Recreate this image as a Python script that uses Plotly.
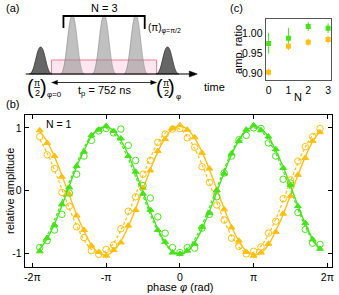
import plotly.graph_objects as go

# ---------------- data ----------------
# phase values in units of pi
phase = [-1.9, -1.8, -1.7, -1.6, -1.5, -1.4, -1.3, -1.2, -1.1, -1.0,
         -0.9, -0.8, -0.7, -0.6, -0.5, -0.4, -0.3, -0.2, -0.1, 0.0,
         0.1, 0.2, 0.3, 0.4, 0.5, 0.6, 0.7, 0.8, 0.9, 1.0,
         1.1, 1.2, 1.3, 1.4, 1.5, 1.6, 1.7, 1.8, 1.9]

# yellow, open circles (data) and dashed fit
yellow_circ = [0.86, 0.57, 0.35, -0.03, -0.25, -0.58, -0.75, -0.96, -1.02, -0.94,
               -0.87, -0.61, -0.33, -0.10, 0.26, 0.48, 0.77, 0.90, 0.98, 0.99,
               0.84, 0.69, 0.38, 0.13, -0.23, -0.47, -0.76, -0.89, -1.01, -0.97,
               -0.90, -0.68, -0.49, -0.13, 0.17, 0.47, 0.70, 0.86, 0.99]
yellow_circ_fit = [0.814, 0.598, 0.326, 0.022, -0.283, -0.562, -0.787, -0.938, -0.999, -0.966,
                   -0.840, -0.634, -0.370, -0.069, 0.238, 0.522, 0.757, 0.920, 0.996, 0.977,
                   0.865, 0.671, 0.413, 0.116, -0.192, -0.482, -0.726, -0.901, -0.990, -0.986,
                   -0.887, -0.705, -0.456, -0.162, 0.145, 0.440, 0.693, 0.879, 0.983]

# yellow, filled triangles (data) and solid fit
yellow_tri = [0.96, 0.76, 0.55, 0.22, -0.06, -0.40, -0.63, -0.88, -0.98, -1.04,
              -0.95, -0.83, -0.56, -0.31, 0.04, 0.32, 0.63, 0.82, 0.99, 1.04,
              0.97, 0.85, 0.60, 0.35, 0.01, -0.30, -0.59, -0.80, -0.98, -1.04,
              -0.99, -0.85, -0.66, -0.37, -0.09, 0.25, 0.52, 0.79, 0.93]
yellow_tri_fit = [0.947, 0.779, 0.537, 0.244, -0.073, -0.382, -0.644, -0.866, -0.995, -1.029,
                  -0.965, -0.810, -0.578, -0.290, 0.024, 0.337, 0.617, 0.838, 0.981, 1.030,
                  0.981, 0.838, 0.617, 0.337, 0.024, -0.290, -0.578, -0.810, -0.965, -1.029,
                  -0.995, -0.866, -0.644, -0.382, -0.073, 0.244, 0.537, 0.779, 0.947]

# green, open circles (data) and dashed fit
green_circ = [-0.91, -0.80, -0.63, -0.38, -0.04, 0.26, 0.55, 0.80, 0.95, 0.99,
              0.92, 0.98, 0.72, 0.48, 0.08, -0.12, -0.42, -0.68, -0.91, -0.99,
              -0.91, -0.92, -0.60, -0.38, -0.10, 0.28, 0.55, 0.81, 0.88, 1.00,
              0.99, 0.76, 0.55, 0.18, 0.12, -0.35, -0.62, -0.84, -0.86]
green_circ_fit = [-0.893, -0.714, -0.467, -0.175, 0.133, 0.428, 0.684, 0.873, 0.980, 0.994,
                  0.913, 0.746, 0.508, 0.222, -0.086, -0.386, -0.648, -0.849, -0.970, -0.998,
                  -0.932, -0.777, -0.548, -0.266, 0.039, 0.341, 0.612, 0.823, 0.957, 1.000,
                  0.948, 0.805, 0.587, 0.312, 0.008, -0.297, -0.574, -0.797, -0.943]

# green, filled triangles (data) and solid fit
green_tri = [-0.97, -0.76, -0.55, -0.22, 0.05, 0.39, 0.62, 0.88, 0.97, 1.03,
             0.95, 0.83, 0.55, 0.30, -0.05, -0.31, -0.63, -0.82, -0.99, -1.01,
             -0.96, -0.85, -0.58, -0.36, 0.00, 0.27, 0.59, 0.79, 0.97, 1.04,
             0.96, 0.86, 0.66, 0.36, 0.09, -0.25, -0.52, -0.78, -0.93]
green_tri_fit = [-0.937, -0.771, -0.531, -0.242, 0.072, 0.378, 0.638, 0.857, 0.985, 1.019,
                 0.956, 0.802, 0.572, 0.288, -0.024, -0.334, -0.611, -0.830, -0.971, -1.020,
                 -0.971, -0.830, -0.611, -0.334, -0.024, 0.288, 0.572, 0.802, 0.956, 1.019,
                 0.985, 0.857, 0.638, 0.378, 0.072, -0.242, -0.531, -0.771, -0.937]

phase_tickvals = [-2, -1, 0, 1, 2]
phase_ticktext = ["-2π", "-π", "0", "π", "2π"]
amp_tickvals = [-1, 0, 1]
amp_ticktext = ["-1", "0", "1"]

# panel (c)
N_vals = [0, 1, 2, 3]
green_ratio = [0.974, 0.987, 1.016, 1.012]
green_ratio_err = [0.026, 0.026, 0.011, 0.012]
yellow_ratio = [0.902, 0.967, 0.977, 0.984]
yellow_ratio_err = [0.009, 0.010, 0.009, 0.010]
ratio_tickvals = [0.90, 0.95, 1.00]
ratio_ticktext = ["0.90", "0.95", "1.00"]

# schematic (a) pulse centres (pixel units of the drawing)
dark_pulses = [40, 168]
light_pulses = [72, 104, 136]

# ---------------- style ----------------
GREEN = "#48e21c"
YELLOW = "#fcc012"
FONT = "Liberation Sans, Arial, sans-serif"
W, H = 339, 295

fig = go.Figure()

def line_trace(y, color, dash):
    return go.Scatter(x=phase, y=y, mode="lines", xaxis="x", yaxis="y",
                      line=dict(color=color, width=1.4 if dash == "solid" else 1.2,
                                dash=dash, shape="spline"),
                      hoverinfo="skip", showlegend=False)

fig.add_trace(line_trace(yellow_tri_fit, YELLOW, "solid"))
fig.add_trace(line_trace(yellow_circ_fit, YELLOW, "3px,2px"))
fig.add_trace(line_trace(green_tri_fit, GREEN, "solid"))
fig.add_trace(line_trace(green_circ_fit, GREEN, "3px,2px"))

for y, col, sym in [(yellow_tri, YELLOW, "triangle-up"), (yellow_circ, YELLOW, "circle-open"),
                    (green_tri, GREEN, "triangle-up"), (green_circ, GREEN, "circle-open")]:
    fig.add_trace(go.Scatter(x=phase, y=y, mode="markers", xaxis="x", yaxis="y",
                             marker=dict(symbol=sym, color=col,
                                         size=6.5 if sym == "circle-open" else 6,
                                         line=dict(width=1, color=col)),
                             showlegend=False, hoverinfo="skip"))

# panel (c)
for y, e, col in [(green_ratio, green_ratio_err, GREEN), (yellow_ratio, yellow_ratio_err, YELLOW)]:
    fig.add_trace(go.Scatter(x=N_vals, y=y, mode="markers", xaxis="x2", yaxis="y2",
                             marker=dict(symbol="square", color=col, size=5),
                             error_y=dict(type="data", array=e, thickness=1, width=0, color=col),
                             showlegend=False, hoverinfo="skip"))

# dummy trace for schematic axis
fig.add_trace(go.Scatter(x=[0], y=[0], mode="markers", xaxis="x3", yaxis="y3",
                         marker=dict(opacity=0), showlegend=False, hoverinfo="skip"))

# ---------------- schematic shapes ----------------
shapes = []
BASE = 74

def S(**kw):
    d = dict(xref="x3", yref="y3", layer="above")
    d.update(kw)
    shapes.append(d)

def pulse(c, peak, w, fill, line):
    p = (f"M {c-w},{BASE} C {c-0.5*w},{BASE} {c-0.38*w},{peak} {c},{peak} "
         f"C {c+0.38*w},{peak} {c+0.5*w},{BASE} {c+w},{BASE} Z")
    S(type="path", path=p, fillcolor=fill, line=dict(color=line, width=0.8))

S(type="rect", x0=51, x1=157, y0=60, y1=BASE, fillcolor="#fde6f0",
  line=dict(color="#f07a8c", width=1))
for c in light_pulses:
    pulse(c, 15, 12, "rgba(140,140,140,0.55)", "rgba(120,120,120,0.6)")
for c in dark_pulses:
    pulse(c, 47, 11.5, "#666666", "#333333")
# time axis with arrow head
S(type="line", x0=25, x1=192, y0=BASE, y1=BASE, line=dict(color="black", width=1))
S(type="path", path=f"M 198,{BASE} L 190,{BASE-3} L 190,{BASE+3} Z", fillcolor="black",
  line=dict(color="black", width=0.5))
# double arrow t_p
S(type="line", x0=54, x1=154, y0=82.5, y1=82.5, line=dict(color="black", width=0.8))
S(type="path", path="M 51,82.5 L 57,80.3 L 57,84.7 Z", fillcolor="black", line=dict(color="black", width=0.3))
S(type="path", path="M 157,82.5 L 151,80.3 L 151,84.7 Z", fillcolor="black", line=dict(color="black", width=0.3))
# bracket
S(type="path", path="M 63,28 L 63,16 L 145,16 L 145,29", line=dict(color="black", width=1.8))
# fraction bars
for xc in [36.5, 166.5]:
    S(type="line", x0=xc - 3, x1=xc + 3, y0=87.5, y1=87.5, line=dict(color="black", width=0.8))

# ---------------- annotations ----------------
ann = []

def txt(x, y, t, size=11, xa="center", angle=0):
    ann.append(dict(x=x, y=y, xref="x3", yref="y3", text=t, showarrow=False,
                    xanchor=xa, yanchor="middle", textangle=angle,
                    font=dict(family=FONT, size=size, color="black")))

txt(3, 8, "(a)", 11, "left")
txt(3, 104, "(b)", 11, "left")
txt(229, 8, "(c)", 11, "left")
txt(104, 8, "N = 3", 11)
txt(146, 28, "(π)<sub>φ=π/2</sub>", 10, "left")
txt(203, 87, "time", 11, "left")
txt(104, 91, "t<sub>p</sub> = 752 ns", 11)
# left (pi/2)_{phi=0}
txt(30, 87, "(", 20)
txt(36.5, 83, "π", 9)
txt(36.5, 92.5, "2", 9)
txt(42.5, 87, ")", 20)
txt(44, 94, "φ=0", 8, "left")
# right (pi/2)_{phi}
txt(160, 87, "(", 20)
txt(166.5, 83, "π", 9)
txt(166.5, 92.5, "2", 9)
txt(172.5, 87, ")", 20)
txt(175, 96, "φ", 8, "left")

txt(9, 191, "relative amplitude", 11, angle=-90)
txt(181, 287, "phase <i>φ</i> (rad)", 11)
txt(43, 124, "N = 1", 10.5, "left")
txt(239, 49, "amp. ratio", 11, angle=-90)
txt(300, 97, "N", 11)

axfont = dict(family=FONT, size=10.5, color="black")
fig.update_layout(
    width=W, height=H, margin=dict(l=0, r=0, t=0, b=0),
    paper_bgcolor="white", plot_bgcolor="rgba(0,0,0,0)",
    showlegend=False, shapes=shapes, annotations=ann,
    font=dict(family=FONT, color="black"),
    xaxis=dict(domain=[24 / W, 334 / W], range=[-2.103, 2.063], anchor="y",
               tickvals=phase_tickvals, ticktext=phase_ticktext, ticks="inside", ticklen=4,
               tickcolor="black", showline=True, linecolor="black", linewidth=1, mirror="allticks",
               showgrid=False, zeroline=False, tickfont=axfont),
    yaxis=dict(domain=[1 - 267 / H, 1 - 115 / H], range=[-1.22, 1.205], anchor="x",
               tickvals=amp_tickvals, ticktext=amp_ticktext, ticks="inside", ticklen=4,
               tickcolor="black", showline=True, linecolor="black", linewidth=1, mirror="allticks",
               showgrid=False, zeroline=False, tickfont=axfont),
    xaxis2=dict(domain=[267 / W, 333 / W], range=[-0.15, 3.15], anchor="y2",
                tickvals=N_vals, ticks="", showline=True, linecolor="#555555", linewidth=1,
                mirror=True, showgrid=False, zeroline=False, tickfont=axfont),
    yaxis2=dict(domain=[1 - 80 / H, 1 - 19 / H], range=[0.8825, 1.035], anchor="x2",
                tickvals=ratio_tickvals, ticktext=ratio_ticktext, ticks="", showline=True,
                linecolor="#555555", linewidth=1, mirror=True, showgrid=False, zeroline=False,
                tickfont=axfont),
    xaxis3=dict(domain=[0, 1], range=[0, W], anchor="y3", visible=False, fixedrange=True),
    yaxis3=dict(domain=[0, 1], range=[H, 0], anchor="x3", visible=False, fixedrange=True),
)

fig.write_html("out.html", config={"displayModeBar": False},
               post_script="document.documentElement.style.margin='0';"
                           "document.body.style.margin='0';document.body.style.padding='0';")
